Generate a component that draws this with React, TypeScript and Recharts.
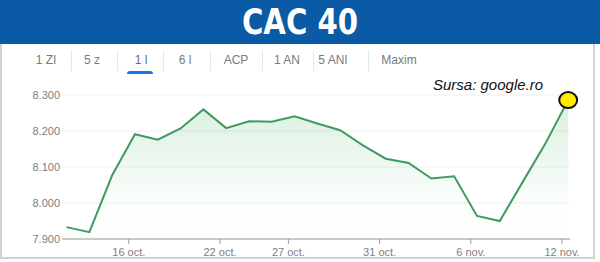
import React from "react";
import {
  ComposedChart,
  Area,
  XAxis,
  YAxis,
  CartesianGrid,
} from "recharts";

const DATES = [
  "13 oct.", "14 oct.", "15 oct.", "16 oct.", "17 oct.", "20 oct.", "21 oct.",
  "22 oct.", "23 oct.", "24 oct.", "27 oct.", "28 oct.", "29 oct.", "30 oct.",
  "31 oct.", "3 nov.", "4 nov.", "5 nov.", "6 nov.", "7 nov.", "10 nov.",
  "11 nov.", "12 nov.",
];
const CLOSES = [
  7933, 7919, 8077, 8191, 8176, 8207, 8260, 8208, 8227, 8226, 8241, 8221,
  8202, 8160, 8123, 8111, 8068, 8074, 7964, 7950, 8058, 8165, 8286,
];
const TICK_LABELS = ["16 oct.", "22 oct.", "27 oct.", "31 oct.", "6 nov.", "12 nov."];
const Y_TICKS = [7900, 8000, 8100, 8200, 8300];
const TABS = ["1 ZI", "5 z", "1 l", "6 l", "ACP", "1 AN", "5 ANI", "Maxim"];
const ACTIVE_TAB = "1 l";

// google puts the tick at midnight, the point at the close
const TICK_SHIFT = 0.27;

const chartData = CLOSES.map((v, i) => ({ x: i, date: DATES[i], value: v }));
const tickPos = TICK_LABELS.map((t) => DATES.indexOf(t) - TICK_SHIFT);

const fmtThousands = (v: number) =>
  `${Math.floor(v / 1000)}.${String(v % 1000).padStart(3, "0")}`;

const fmtTick = (v: number) => {
  const i = Math.round(v + TICK_SHIFT);
  return DATES[i] || "";
};

// tab centres and separators
const TAB_X = [46, 92, 141, 185, 236, 287, 333, 399];
const SEP_X = [71, 117, 163, 210, 262, 313, 368];

const LastDot = (props: any) => {
  const { cx, cy, index } = props;
  if (index !== CLOSES.length - 1) return <g key={`d-${index}`} />;
  return (
    <ellipse
      key={`d-${index}`}
      cx={cx}
      cy={cy}
      rx={9}
      ry={8}
      fill='#ffec00'
      stroke='#111'
      strokeWidth={2}
    />
  );
};

export default function App() {
  const font = "'Liberation Sans', Arial, sans-serif";
  return (
    <div
      style={{
        position: "absolute",
        left: 0,
        top: 0,
        width: 600,
        height: 262,
        background: "#fff",
        overflow: "hidden",
        fontFamily: font,
      }}
    >
      <div
        style={{
          position: "absolute",
          left: 0,
          top: 0,
          width: 600,
          height: 44,
          background: "#0b5aa6",
        }}
      />
      <div
        style={{
          position: "absolute",
          left: 0,
          top: 2,
          width: 600,
          textAlign: "center",
          color: "#fff",
          fontFamily: "'DejaVu Sans Condensed', 'DejaVu Sans', sans-serif",
          fontStretch: "condensed",
          fontWeight: "bold",
          fontSize: 36,
          lineHeight: "40px",
          transform: "scaleX(0.9)",
        }}
      >
        CAC 40
      </div>
      <div
        style={{
          position: "absolute",
          left: 0,
          top: 44,
          width: 591,
          height: 213,
          borderLeft: "2px solid #d2d2d2",
          borderRight: "2px solid #d2d2d2",
          borderBottom: "2px solid #d2d2d2",
        }}
      />
      {TABS.map((t, i) => (
        <div
          key={t}
          style={{
            position: "absolute",
            left: TAB_X[i] - 30,
            width: 60,
            top: 53,
            textAlign: "center",
            fontSize: 12,
            lineHeight: "15px",
            color: t === ACTIVE_TAB ? "#5a6f9a" : "#777b80",
          }}
        >
          {t}
        </div>
      ))}
      {SEP_X.map((x) => (
        <div
          key={x}
          style={{
            position: "absolute",
            left: x,
            top: 50,
            width: 1,
            height: 21,
            background: "#e6e6e6",
          }}
        />
      ))}
      <div
        style={{
          position: "absolute",
          left: 127,
          top: 71,
          width: 26,
          height: 3,
          borderRadius: "3px 3px 0 0",
          background: "#1a73e8",
        }}
      />
      <div
        style={{
          position: "absolute",
          left: 0,
          top: 0,
        }}
      >
        <ComposedChart
          width={600}
          height={262}
          data={chartData}
          margin={{ top: 95, right: 30, bottom: 0, left: 2 }}
        >
          <defs>
            <linearGradient id='fillGreen' x1='0' y1='0' x2='0' y2='1'>
              <stop offset='0%' stopColor='#34a853' stopOpacity={0.3} />
              <stop offset='75%' stopColor='#34a853' stopOpacity={0.03} />
              <stop offset='100%' stopColor='#34a853' stopOpacity={0} />
            </linearGradient>
          </defs>
          <CartesianGrid
            vertical={false}
            stroke='#efefef'
            horizontalValues={Y_TICKS}
          />
          <XAxis
            dataKey='x'
            type='number'
            domain={[-0.2, 22.08]}
            ticks={tickPos}
            tickFormatter={fmtTick}
            height={23}
            tickSize={5}
            tickMargin={4}
            axisLine={{ stroke: "#9a9a9a" }}
            tickLine={{ stroke: "#9a9a9a" }}
            tick={{ fill: "#808080", fontSize: 11, fontFamily: font }}
          />
          <YAxis
            domain={[7900, 8300]}
            ticks={Y_TICKS}
            tickFormatter={fmtThousands}
            width={60}
            axisLine={false}
            tickLine={false}
            tickSize={0}
            tickMargin={2}
            tick={{ fill: "#808080", fontSize: 11, fontFamily: font }}
          />
          <Area
            type='linear'
            dataKey='value'
            baseValue={7900}
            stroke='#3f9b5f'
            strokeWidth={2}
            fill='url(#fillGreen)'
            dot={LastDot}
            activeDot={false}
            isAnimationActive={false}
          />
        </ComposedChart>
      </div>
      <div
        style={{
          position: "absolute",
          left: 433,
          top: 76,
          fontSize: 15,
          fontStyle: "italic",
          color: "#111",
          lineHeight: "18px",
        }}
      >
        Sursa: google.ro
      </div>
    </div>
  );
}
